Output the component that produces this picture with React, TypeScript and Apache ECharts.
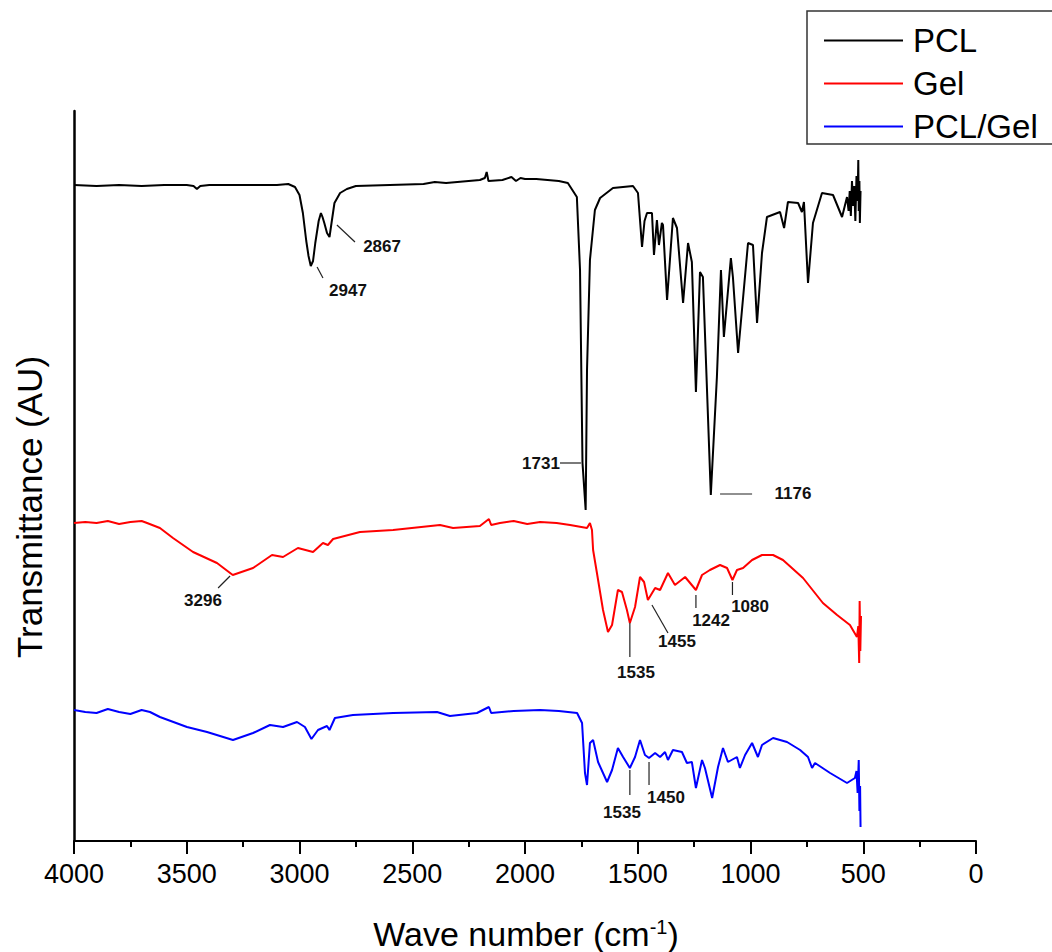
import React, { useEffect, useRef } from "react";
import * as echarts from "echarts";

// FTIR spectra: [wave number (cm-1), transmittance (AU, offset)]
const pclSpectrum: number[][] = [
  [4000, 656], [3900, 655], [3800, 656], [3700, 655], [3600, 656], [3500, 656], [3470, 655], [3455, 652], [3440, 655],
  [3400, 656], [3300, 656], [3200, 656], [3100, 656], [3050, 657], [3020, 654], [3000, 646], [2985, 628], [2970, 600],
  [2960, 585], [2950, 575], [2940, 580], [2930, 598], [2915, 620], [2905, 628], [2898, 624], [2890, 618], [2878, 608],
  [2867, 604], [2858, 618], [2845, 638], [2820, 648], [2790, 652], [2750, 655], [2600, 656], [2450, 657], [2400, 659],
  [2350, 658], [2300, 659], [2250, 660], [2200, 661], [2178, 663], [2170, 669], [2162, 660], [2100, 661], [2060, 664],
  [2040, 660], [2020, 663], [2000, 662], [1950, 662], [1900, 661], [1850, 660], [1810, 658], [1790, 651], [1770, 644],
  [1756, 571], [1745, 378], [1731, 331], [1725, 471], [1712, 581], [1690, 631], [1667, 643], [1610, 653], [1521, 655],
  [1499, 648], [1481, 594], [1470, 620], [1459, 628], [1437, 628], [1428, 586], [1415, 621], [1406, 596], [1393, 618],
  [1388, 616], [1370, 541], [1344, 623], [1326, 613], [1299, 538], [1277, 598], [1260, 579], [1242, 449], [1224, 569],
  [1211, 564], [1176, 346], [1149, 464], [1131, 571], [1118, 504], [1087, 583], [1078, 564], [1055, 488], [1011, 598],
  [989, 596], [971, 518], [949, 588], [927, 624], [869, 629], [851, 613], [834, 639], [789, 638], [772, 629], [763, 639],
  [745, 558], [723, 618], [683, 648], [634, 646], [594, 624], [572, 644], [565, 630], [560, 650], [555, 625], [550, 660],
  [545, 635], [540, 655], [535, 620], [530, 665], [525, 640], [522, 681], [520, 630], [517, 660], [515, 618], [512, 650],
];

const gelSpectrum: number[][] = [
  [4000, 318], [3950, 319], [3900, 318], [3850, 320], [3800, 317], [3750, 319], [3700, 320], [3676, 318], [3619, 313],
  [3561, 303], [3472, 289], [3366, 278], [3296, 266], [3206, 273], [3122, 286], [3073, 284], [3007, 293], [2940, 289],
  [2896, 298], [2874, 296], [2851, 302], [2732, 309], [2585, 311], [2377, 316], [2319, 313], [2200, 315], [2160, 322],
  [2150, 316], [2111, 318], [2050, 320], [1990, 317], [1933, 319], [1860, 318], [1800, 316], [1725, 313], [1712, 318],
  [1703, 311], [1698, 291], [1681, 268], [1654, 231], [1632, 209], [1614, 216], [1588, 251], [1570, 249], [1548, 231],
  [1535, 218], [1512, 234], [1490, 264], [1472, 259], [1455, 241], [1423, 253], [1401, 251], [1366, 268], [1335, 256],
  [1290, 264], [1242, 251], [1215, 266], [1180, 271], [1135, 276], [1104, 273], [1080, 261], [1060, 271], [1033, 273],
  [993, 281], [949, 286], [900, 286], [856, 281], [767, 263], [679, 238], [616, 226], [559, 216], [528, 204], [522, 215],
  [518, 178], [516, 240], [513, 190], [510, 225],
];

const pclGelSpectrum: number[][] = [
  [4000, 131], [3950, 129], [3900, 128], [3850, 132], [3800, 129], [3750, 127], [3700, 131], [3663, 129], [3619, 124],
  [3499, 114], [3410, 109], [3295, 101], [3206, 108], [3131, 116], [3073, 114], [3011, 119], [2976, 114], [2947, 102],
  [2918, 111], [2878, 115], [2867, 111], [2843, 123], [2763, 126], [2585, 128], [2390, 129], [2333, 125], [2213, 128],
  [2160, 134], [2150, 128], [2050, 130], [1933, 131], [1850, 130], [1769, 128], [1747, 118], [1734, 68], [1725, 56],
  [1712, 98], [1698, 101], [1676, 79], [1636, 59], [1614, 71], [1588, 93], [1565, 84], [1535, 73], [1512, 84],
  [1490, 101], [1468, 86], [1450, 83], [1423, 88], [1401, 84], [1379, 89], [1366, 81], [1344, 91], [1304, 89],
  [1282, 78], [1260, 79], [1242, 53], [1215, 81], [1202, 73], [1170, 43], [1144, 74], [1122, 93], [1100, 79],
  [1060, 84], [1047, 73], [1024, 86], [993, 98], [967, 84], [949, 96], [900, 103], [838, 99], [780, 91], [745, 84],
  [727, 73], [714, 78], [647, 68], [572, 58], [537, 63], [530, 70], [525, 48], [520, 81], [517, 30], [514, 55], [512, 14],
];

const seriesNames = ["PCL", "Gel", "PCL/Gel"];
const seriesColors = ["#000000", "#ff0000", "#0000ff"];

// Peak annotations: label, leader line [x1, y1, x2, y2], label centre [x, y] (data units)
const annotationLabels = ["2947", "2867", "1731", "1176", "3296", "1535", "1455", "1242", "1080", "1535", "1450"];
const annotationLines: number[][] = [
  [2922, 574, 2896, 563],
  [2834, 616, 2754, 599],
  [1845, 378, 1752, 378],
  [1135, 347, 993, 347],
  [3308, 265, 3361, 253],
  [1535, 218, 1535, 184],
  [1437, 236, 1366, 208],
  [1242, 246, 1242, 233],
  [1080, 259, 1080, 246],
  [1535, 71, 1535, 46],
  [1450, 79, 1450, 56],
];
const annotationLabelPos: number[][] = [
  [2785, 551], [2634, 595], [1929, 378], [812, 348], [3428, 241], [1508, 169], [1326, 200], [1175, 221], [1002, 235],
  [1570, 29], [1375, 44],
];

const xTicks = { min: 0, max: 4000, interval: 500 };

const FONT = "'Liberation Sans', Arial, Helvetica, sans-serif";

export default function App() {
  const ref = useRef<HTMLDivElement>(null);

  useEffect(() => {
    if (!ref.current) return;
    document.documentElement.style.overflow = "hidden";
    document.body.style.margin = "0";
    document.body.style.overflow = "hidden";
    const chart = echarts.init(ref.current, undefined, { renderer: "svg" });

    const annotationData = annotationLines.map((l, i) => [l[0], l[1], l[2], l[3], annotationLabelPos[i][0], annotationLabelPos[i][1]]);

    const spectra = [pclSpectrum, gelSpectrum, pclGelSpectrum];

    chart.setOption({
      animation: false,
      backgroundColor: "#ffffff",
      textStyle: { fontFamily: FONT },
      grid: { left: 74, right: 76, top: 111, bottom: 111, containLabel: false },
      legend: {
        orient: "vertical",
        left: 807,
        top: 11,
        data: seriesNames,
        icon: "rect",
        itemWidth: 79,
        itemHeight: 2,
        itemGap: 10,
        padding: [13, 5, 3, 17],
        borderWidth: 0,
        textStyle: { fontSize: 33, lineHeight: 32, color: "#000", fontFamily: FONT, padding: [0, 0, 0, 5] },
        selectedMode: false,
      },
      xAxis: {
        type: "value",
        inverse: true,
        min: xTicks.min,
        max: xTicks.max,
        interval: xTicks.interval,
        axisLine: { show: true, onZero: false, lineStyle: { color: "#000", width: 2 } },
        axisTick: { show: true, inside: false, length: 13, lineStyle: { color: "#000", width: 2 } },
        minorTick: { show: true, splitNumber: 2, length: 6, lineStyle: { color: "#000", width: 2 } },
        axisLabel: { fontSize: 27, color: "#000", margin: 19, fontFamily: FONT, formatter: (v: number) => String(v) },
        splitLine: { show: false },
      },
      yAxis: {
        type: "value",
        min: 0,
        max: 730,
        axisLine: { show: true, onZero: false, lineStyle: { color: "#000", width: 2.5 } },
        axisTick: { show: false },
        axisLabel: { show: false },
        splitLine: { show: false },
      },
      graphic: [
        {
          type: "rect",
          z: -1,
          shape: { x: 807, y: 11, width: 300, height: 133 },
          style: { fill: "#ffffff", stroke: "#333333", lineWidth: 1.5 },
        },
        {
          type: "text",
          x: 29,
          y: 507,
          rotation: Math.PI / 2,
          style: {
            text: "Transmittance (AU)",
            fontSize: 35,
            fontFamily: FONT,
            fill: "#000",
            align: "center",
            verticalAlign: "middle",
          },
        },
        {
          type: "text",
          x: 526,
          y: 934,
          style: {
            text: "{n|Wave number (cm}{s|-1}{n|)}",
            align: "center",
            verticalAlign: "middle",
            fill: "#000",
            fontFamily: FONT,
            rich: {
              n: { fontSize: 34, fontFamily: FONT, fill: "#000", verticalAlign: "bottom" },
              s: { fontSize: 20, fontFamily: FONT, fill: "#000", verticalAlign: "top" },
            },
          },
        },
      ],
      series: [
        ...spectra.map((d, i) => ({
          name: seriesNames[i],
          type: "line",
          data: d,
          showSymbol: false,
          symbol: "none",
          lineStyle: { color: seriesColors[i], width: 2 },
          itemStyle: { color: seriesColors[i] },
          z: 2,
        })),
        {
          name: "annotations",
          type: "custom",
          data: annotationData,
          encode: { x: [0, 2, 4], y: [1, 3, 5] },
          silent: true,
          z: 5,
          renderItem: (params: any, api: any) => {
            const p1 = api.coord([api.value(0), api.value(1)]);
            const p2 = api.coord([api.value(2), api.value(3)]);
            const p3 = api.coord([api.value(4), api.value(5)]);
            return {
              type: "group",
              children: [
                {
                  type: "line",
                  shape: { x1: p1[0], y1: p1[1], x2: p2[0], y2: p2[1] },
                  style: { stroke: "#222", lineWidth: 1.2 },
                },
                {
                  type: "text",
                  x: p3[0],
                  y: p3[1],
                  style: {
                    text: annotationLabels[params.dataIndex],
                    fontSize: 17,
                    fontWeight: "bold",
                    fontFamily: FONT,
                    fill: "#111",
                    align: "center",
                    verticalAlign: "middle",
                  },
                },
              ],
            };
          },
        },
      ],
    });

    return () => chart.dispose();
  }, []);

  return <div ref={ref} style={{ position: "fixed", left: 0, top: 0, width: 1052, height: 952 }} />;
}
